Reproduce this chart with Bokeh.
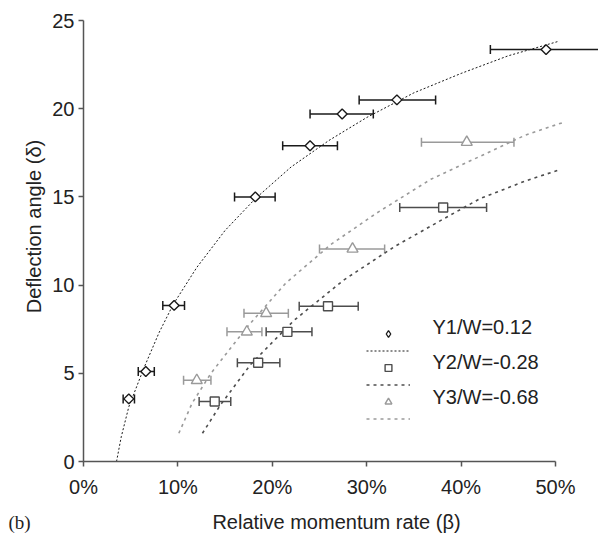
import math
from bokeh.plotting import figure
from bokeh.models import (ColumnDataSource, Whisker, TeeHead, FixedTicker,
                          PrintfTickFormatter, Legend, LegendItem, Label)
from bokeh.embed import file_html
from bokeh.resources import INLINE

# ---- data (x in %, y = deflection angle) ----
y1_x = [4.8, 6.6, 9.6, 18.2, 24.0, 27.4, 33.2, 49.0]
y1_y = [3.55, 5.1, 8.85, 15.0, 17.9, 19.7, 20.5, 23.35]
y1_lo = [4.2, 5.8, 8.4, 16.0, 21.1, 24.0, 29.2, 43.1]
y1_hi = [5.4, 7.5, 10.7, 20.3, 26.9, 30.7, 37.3, 54.9]

y2_x = [13.9, 18.5, 21.6, 25.9, 38.1]
y2_y = [3.4, 5.6, 7.35, 8.8, 14.4]
y2_lo = [12.25, 16.3, 19.35, 22.85, 33.5]
y2_hi = [15.6, 20.8, 24.2, 29.1, 42.7]

y3_x = [12.0, 17.3, 19.35, 28.5, 40.6]
y3_y = [4.6, 7.35, 8.4, 12.05, 18.1]
y3_lo = [10.6, 15.2, 17.0, 25.0, 35.8]
y3_hi = [13.5, 18.9, 21.7, 31.9, 45.6]

# trend curves
fit1_x = [3.5, 4.0, 4.8, 6.4, 8.0, 9.5, 12.0, 15.0, 18.2, 22.0, 26.0, 30.0, 35.0, 40.0, 45.0, 50.2]
fit1_y = [0.0, 1.4, 3.1, 5.3, 7.3, 8.9, 11.0, 13.1, 14.9, 16.7, 18.2, 19.5, 20.9, 22.0, 23.0, 23.8]
fit2_x = [12.6, 14.5, 17.7, 22.3, 27.6, 33.0, 38.3, 42.0, 46.8, 50.2]
fit2_y = [1.6, 3.2, 5.5, 8.0, 10.3, 12.2, 13.8, 14.9, 15.9, 16.5]
fit3_x = [10.1, 11.5, 13.5, 17.3, 21.4, 26.2, 31.1, 36.8, 42.0, 46.8, 50.7]
fit3_y = [1.6, 3.3, 5.0, 7.6, 10.1, 12.3, 14.1, 16.0, 17.3, 18.5, 19.2]

labels = ["Y1/W=0.12", "Y2/W=-0.28", "Y3/W=-0.68"]
x_title = "Relative momentum rate (\u03b2)"
y_title = "Deflection angle (\u03b4)"
panel_tag = "(b)"
x_ticks = [0, 10, 20, 30, 40, 50]
y_ticks = [0, 5, 10, 15, 20, 25]

FONT = "Liberation Sans"
FS = "20px"
C1, C2, C3 = "#1a1a1a", "#4d4d4d", "#9a9a9a"
TXT = "#222222"

W, H = 598, 538
# plot area: 0% at px 83, 50% at px 555; value 0 at px 461, 25 at px 20
PX_X = 472 / 50.0
PX_Y = 441 / 25.0
x_range = (-83 / PX_X, (W - 83) / PX_X)
y_range = (-(H - 461) / PX_Y, 25 + 20 / PX_Y)

p = figure(width=W, height=H, x_range=x_range, y_range=y_range,
           output_backend="svg", toolbar_location=None,
           min_border_left=0, min_border_right=0, min_border_top=0,
           min_border_bottom=0)
p.outline_line_color = None
p.xgrid.visible = False
p.ygrid.visible = False
p.background_fill_color = "white"
p.border_fill_color = "white"

for ax in (p.xaxis[0], p.yaxis[0]):
    ax.fixed_location = 0
    ax.axis_line_color = "#555555"
    ax.axis_line_width = 1.5
    ax.major_tick_line_color = "#555555"
    ax.major_tick_line_width = 1.5
    ax.major_tick_in = 0
    ax.major_tick_out = 5
    ax.minor_tick_line_color = None
    ax.major_label_text_font = FONT
    ax.major_label_text_font_size = FS
    ax.major_label_text_color = TXT

p.xaxis[0].ticker = FixedTicker(ticks=x_ticks)
p.xaxis[0].formatter = PrintfTickFormatter(format="%d%%")
p.xaxis[0].bounds = (0, 50)
p.xaxis[0].major_label_standoff = 9
p.yaxis[0].ticker = FixedTicker(ticks=y_ticks)
p.yaxis[0].bounds = (0, 25)
p.yaxis[0].major_label_standoff = 4

# trend lines
l1 = p.line(fit1_x, fit1_y, line_color=C1, line_width=1, line_dash="2 2")
l2 = p.line(fit2_x, fit2_y, line_color=C2, line_width=1.6, line_dash="3 4")
l3 = p.line(fit3_x, fit3_y, line_color=C3, line_width=1.6, line_dash="3 4")

# diamond shape used for the legend key (hidden under the rotated squares)
src1 = ColumnDataSource(dict(x=y1_x, y=y1_y, lo=y1_lo, hi=y1_hi))
rd = p.scatter("x", "y", source=src1, marker="diamond", size=4,
               fill_color="white", line_color=C1, line_width=1.3)

def series(src, color, marker, size, angle=0.0):
    w = Whisker(source=src, base="y", lower="lo", upper="hi", dimension="width",
                line_color=color, line_width=1.5,
                lower_head=TeeHead(size=9, line_color=color, line_width=1.5),
                upper_head=TeeHead(size=9, line_color=color, line_width=1.5))
    p.add_layout(w)
    return p.scatter("x", "y", source=src, marker=marker, size=size, angle=angle,
                     fill_color="white", line_color=color, line_width=1.4)

src2 = ColumnDataSource(dict(x=y2_x, y=y2_y, lo=y2_lo, hi=y2_hi))
src3 = ColumnDataSource(dict(x=y3_x, y=y3_y, lo=y3_lo, hi=y3_hi))
r1 = series(src1, C1, "square", 7, math.pi / 4)
r2 = series(src2, C2, "square", 9)
r3 = series(src3, C3, "triangle", 11)

# legend keys (glyphs only); text placed with labels
legend = Legend(items=[
    LegendItem(label=" ", renderers=[rd]),
    LegendItem(label=" ", renderers=[l1]),
    LegendItem(label=" ", renderers=[r2]),
    LegendItem(label=" ", renderers=[l2]),
    LegendItem(label=" ", renderers=[r3]),
    LegendItem(label=" ", renderers=[l3]),
], location=(366, 111), orientation="vertical",
    glyph_width=44, glyph_height=17, label_height=17, spacing=0,
    label_standoff=0, padding=0, margin=0,
    border_line_alpha=0, background_fill_alpha=0,
    label_text_font_size="1px")
p.add_layout(legend)

def screen_label(x, y, text, align="left", angle=0.0, font=FONT, size=FS):
    p.add_layout(Label(x=x, y=y, x_units="screen", y_units="screen", text=text,
                       angle=angle, text_align=align, text_baseline="middle",
                       text_font=font, text_font_size=size, text_color=TXT))

for txt, ty in zip(labels, [H - 326, H - 361, H - 396]):
    screen_label(432, ty, txt)

screen_label(336, H - 521, x_title, align="center")
screen_label(33, H - 226, y_title, align="center", angle=math.pi / 2)
screen_label(8, H - 522, panel_tag, font="Liberation Serif", size="19px")

open("out.html", "w").write(file_html(p, INLINE))
